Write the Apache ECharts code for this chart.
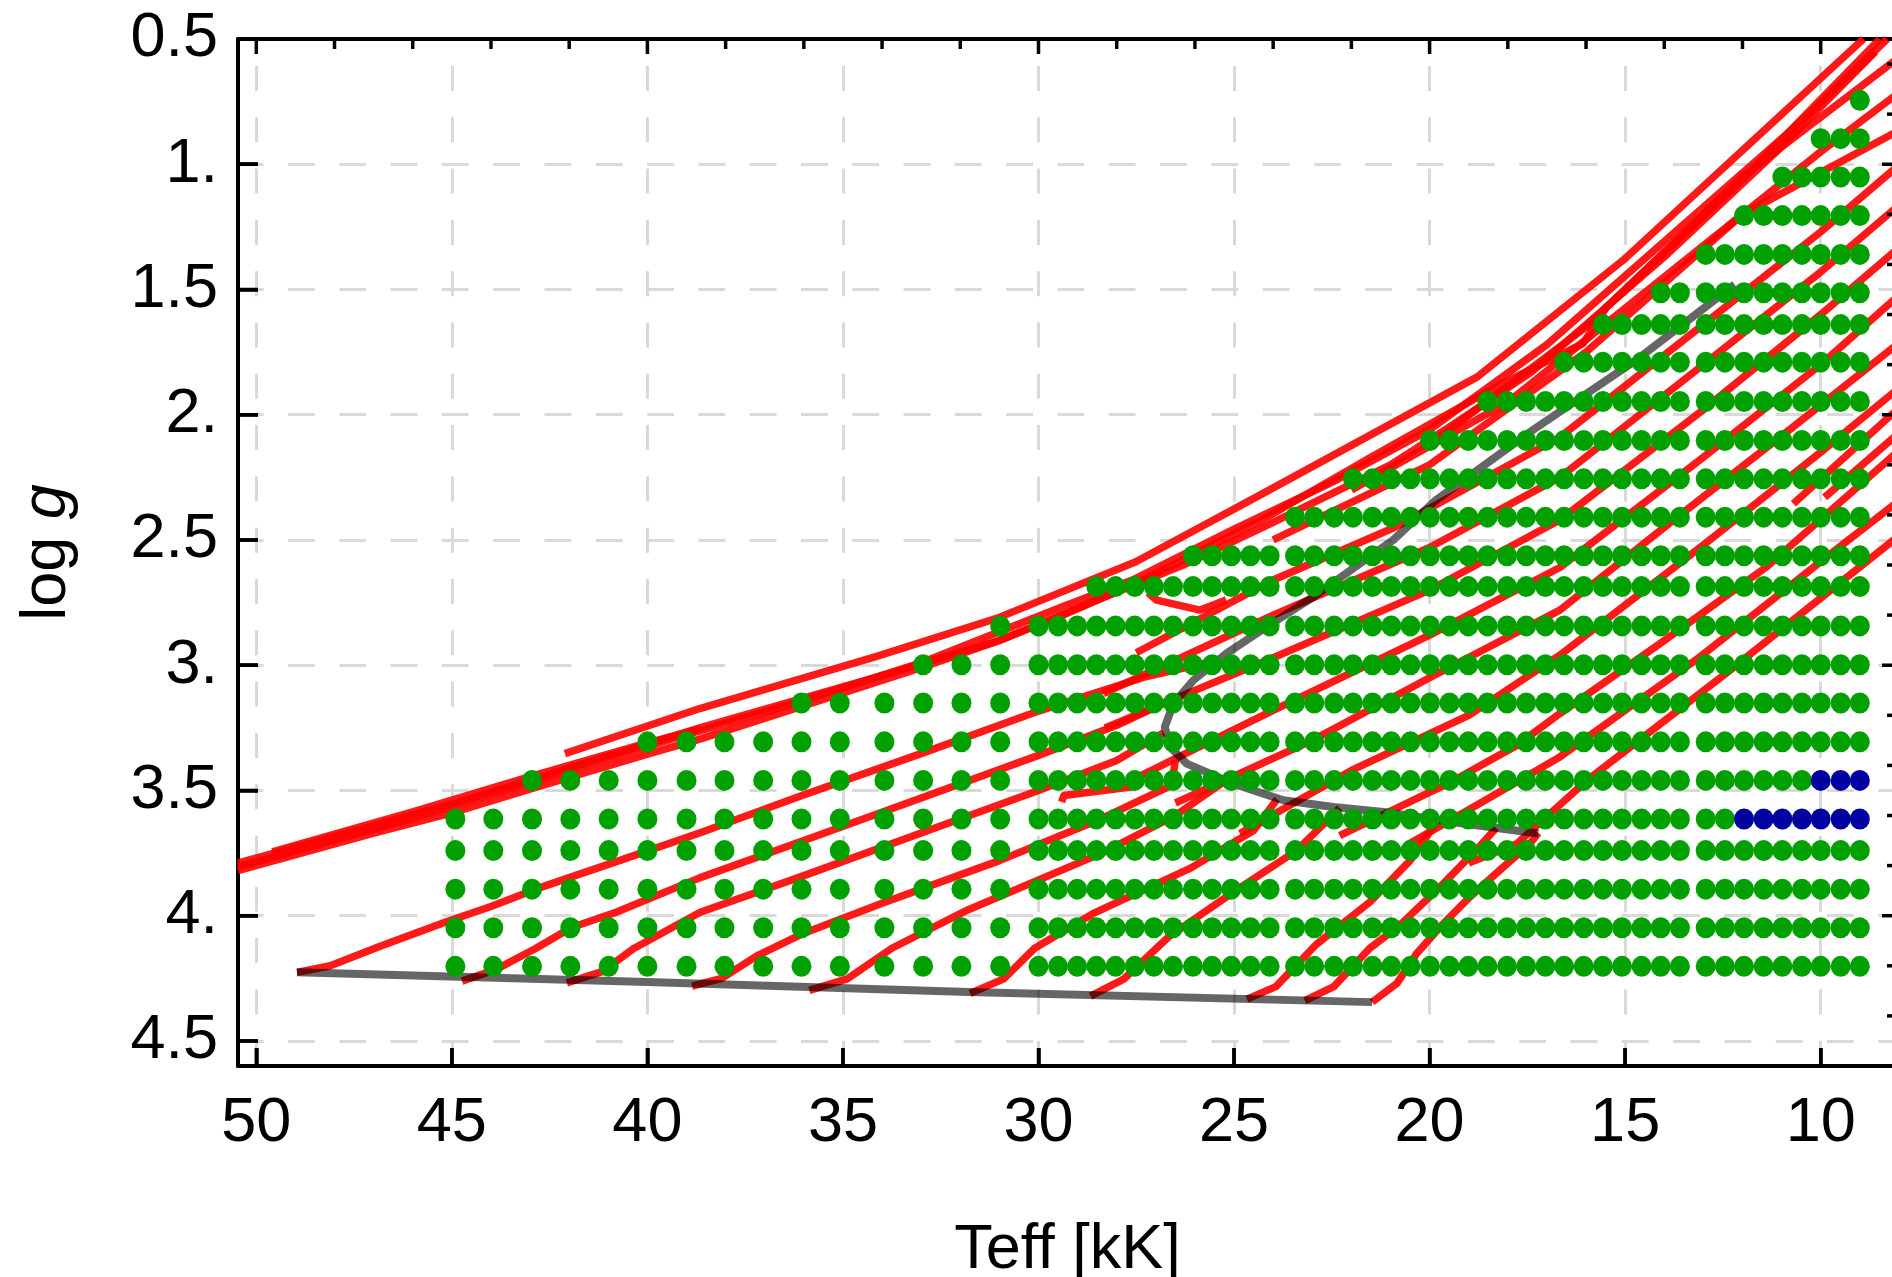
<!DOCTYPE html>
<html><head><meta charset="utf-8">
<script src="https://cdn.jsdelivr.net/npm/echarts@6/dist/echarts.min.js"></script>
<style>html,body{margin:0;padding:0;background:#fff}#c{width:1892px;height:1277px}</style>
</head><body><div id="c"></div>
<script>
// ---- grid of model points (Teff in kK, log g) ----
const rowLogg = [0.745,0.898,1.051,1.205,1.36,1.513,1.64,1.79,1.947,2.103,2.256,2.409,2.563,2.686,2.843,2.998,3.151,3.306,3.46,3.614,3.74,3.894,4.048,4.202];
const rowHottest = [9.0,10.0,10.98,11.96,12.94,14.09,15.57,16.56,18.52,19.99,21.96,23.44,26.05,28.52,30.98,32.95,36.06,40.0,42.95,44.91,44.91,44.91,44.91,44.91];
const colsSparse = [44.91,43.94,42.95,41.97,40.99,40.0,39.0,38.03,37.04,36.06,35.08,33.94,32.95,31.97,30.98];
const colsHot = [30.0,29.5,29.01,28.52,28.03,27.54,27.05,26.56,26.05,25.56,25.07,24.58,24.09];
const colsMid = [23.44,22.95,22.44,21.96,21.46,20.98,20.49,19.99,19.49,19.01,18.52,18.02,17.53,17.04,16.56,16.06,15.57,15.08,14.58,14.09,13.6];
const colsCool = [12.94,12.45,11.96,11.46,10.98,10.48,10.0,9.49,9.0];
// rows whose coolest points are marked blue: [logg, hottest blue Teff]
const blueRows = [[3.46,10.0],[3.614,11.96]];

// ---- ZAMS and TAMS (grey) ----
const zamsLine = [[48.96,4.226],[40.0,4.265],[31.8,4.305],[21.47,4.345]];
const tamsLine = [[12.2,1.48],[14.7,1.78],[17.35,2.06],[19.84,2.341],[20.93,2.5],[21.78,2.594],[22.97,2.727],[24.17,2.847],[25.19,2.953],[26.04,3.06],[26.55,3.153],[26.77,3.246],[26.64,3.326],[26.21,3.393],[25.02,3.473],[23.74,3.539],[22.46,3.566],[21.18,3.586],[19.14,3.632],[17.22,3.672]];

// ---- evolutionary tracks (red) ----
const trkE0 = [[42.11,3.353],[38.66,3.173],[34.18,2.967],[31.07,2.813],[27.51,2.587],[24.34,2.321],[18.78,1.849],[15.05,1.383],[8.91,0.5]];
const trkE1 = [[50.47,3.79],[47,3.64],[44.9,3.55],[42.9,3.455],[40,3.315],[38.66,3.25],[34.09,3.045],[31.17,2.91],[29.52,2.81],[27.4,2.665],[24.34,2.425],[21.5,2.17],[18.2,1.88],[16.07,1.715],[15.47,1.569],[12,1.06],[8.49,0.5]];
const trkE2 = [[50.47,3.82],[47,3.67],[44.9,3.585],[42.9,3.49],[40,3.355],[38.66,3.295],[36.06,3.165],[33,3.01],[30.98,2.9],[28.5,2.74],[26.3,2.6],[24,2.43],[21,2.2],[19.5,2.05],[17.4,1.83],[14,1.37],[11,0.93],[8.6,0.55]];
const trkE3 = [[49.59,3.745],[46,3.585],[43,3.445],[40,3.31],[38.66,3.255]];
const trkE4 = [[50.47,3.805],[46,3.61],[42,3.42],[39.5,3.30],[36,3.14],[33,2.99],[29.39,2.767],[27.6,2.66],[25.05,2.461],[22.5,2.27],[20,2.06],[17,1.72],[13.5,1.24],[10.5,0.83],[8.3,0.5]];
const hookA = [[29.41,3.546],[29.35,3.52],[27.6,3.485]];
const hookB = [[27.2,2.71],[26.98,2.74],[25.87,2.78],[25.2,2.74]];
const msZ1 = [[48.96,4.226],[48.11,4.2],[46.85,4.123],[45.14,4.024],[44.0,3.963],[42.86,3.894],[40.57,3.772],[38.65,3.669],[36.03,3.519],[32.95,3.35],[29.98,3.182],[27.24,3.045],[25.4,2.98]];
const msZ2 = [[44.74,4.261],[43.88,4.215],[42.86,4.131],[41.94,4.047],[40.8,3.986],[38.65,3.848],[36,3.7],[33,3.53],[30,3.36],[28,3.24],[26.5,3.13]];
const msZ3 = [[42.06,4.268],[41.14,4.222],[40.35,4.131],[38.65,3.986],[36,3.84],[33,3.67],[30,3.5],[28,3.38],[26.8,3.27]];
const msZ4 = [[38.86,4.281],[38.1,4.25],[37.2,4.16],[36,4.07],[34,3.95],[31,3.78],[28.5,3.62],[26.6,3.48],[26.5,3.38]];
const msZ5 = [[35.86,4.298],[34.89,4.252],[33.75,4.13],[31.81,3.977],[28.38,3.75],[26.5,3.6],[25.3,3.47]];
const msZ6 = [[31.75,4.31],[30.89,4.252],[30.1,4.13],[28.61,3.992],[26.1,3.809],[24.5,3.66],[23.9,3.535]];
const msZ7 = [[28.67,4.321],[27.81,4.252],[26.67,4.084],[24.96,3.9],[23.4,3.74],[22.3,3.57]];
const msZ8 = [[24.67,4.333],[23.93,4.283],[22.9,4.115],[21.53,3.946],[20.5,3.78],[19.8,3.62]];
const msZ9 = [[23.19,4.339],[22.45,4.283],[21.53,4.13],[20.76,4.038],[19.7,3.88],[18.7,3.72],[18.3,3.65]];
const msZ10 = [[21.47,4.345],[20.84,4.271],[20.33,4.151],[19.73,4.045],[18.97,3.925],[18.11,3.805],[17.43,3.712],[17.22,3.67]];
const pZ10 = [[19.0,3.79],[17.77,3.713],[15.98,3.46],[12.4,3.03],[8.05,2.49]];
const pZ9 = [[20.6,3.72],[18.7,3.55],[16.67,3.366],[13.09,2.967],[9.85,2.568],[8.05,2.35]];
const pZ8 = [[22.3,3.68],[19.5,3.47],[17.77,3.32],[16.67,3.193],[14.11,2.914],[11.38,2.607],[8.05,2.15]];
const pZ7 = [[24.85,3.672],[22,3.42],[19,3.2],[16.67,2.96],[13,2.52],[10,2.15],[8.05,1.9]];
const pZ6 = [[26.5,3.55],[23,3.3],[20,3.05],[16.67,2.78],[13.77,2.421],[10.7,2.048],[8.05,1.72]];
const pZ5 = [[27.5,3.45],[24,3.18],[20,2.88],[16.67,2.61],[13,2.17],[10,1.8],[8.05,1.53]];
const pZ4 = [[28.3,3.25],[24,2.97],[20,2.7],[16.67,2.42],[13,1.98],[10,1.6],[8.05,1.34]];
const pZ3 = [[28.34,3.113],[24,2.8],[20,2.53],[16.67,2.25],[13,1.8],[10,1.43],[8.05,1.17]];
const pZ2 = [[27.5,2.95],[24,2.66],[20.9,2.45],[16.67,2.09],[13,1.64],[10,1.27],[8.05,1.01]];
const pEa = [[24,2.5],[20,2.2],[16,1.75],[12,1.2],[8.05,0.87]];
const pEb = [[22,2.3],[18,1.95],[14,1.45],[10,0.95],[8.05,0.72]];
const pEc = [[20,2.12],[16,1.65],[12,1.05],[8.05,0.58]];
const stubA = [[10.7,2.355],[8.05,1.98]];
const stubB = [[9.9,2.33],[8.05,2.08]];
const redTracks = [trkE0,trkE1,trkE2,trkE3,trkE4,hookA,hookB,msZ1,msZ2,msZ3,msZ4,msZ5,msZ6,msZ7,msZ8,msZ9,msZ10,
  pZ10,pZ9,pZ8,pZ7,pZ6,pZ5,pZ4,pZ3,pZ2,pEa,pEb,pEc,stubA,stubB];

// ---- axis ticks ----
const xTickStep = 5, yTickStep = 0.5;
const bottomTicks = [10,15,20,25,30,35,40,45,50];
const topTicks = [10,12,14,16,18,20,22,24,26,28,30,32,34,36,38,40,42,44,46,48,50];
const leftTicks = [1.0,1.5,2.0,2.5,3.0,3.5,4.0,4.5];
const rightTicks = [0.6,0.8,1.0,1.2,1.4,1.6,1.8,2.0,2.2,2.4,2.6,2.8,3.0,3.2,3.4,3.6,3.8,4.0,4.2,4.4];

// build point lists
const allCols = colsSparse.concat(colsHot, colsMid, colsCool);
const greenPts = [], bluePts = [];
rowLogg.forEach((g, i) => {
  allCols.forEach(t => {
    if (t > rowHottest[i] + 0.05) return;
    const b = blueRows.find(r => Math.abs(r[0] - g) < 1e-6);
    if (b && t <= b[1] + 0.05) bluePts.push([t, g]); else greenPts.push([t, g]);
  });
});

const xMin = 8.049, xMax = 50.468, yMin = 0.5, yMax = 4.6;
const FONT = '"Liberation Sans", Arial, sans-serif';
const chart = echarts.init(document.getElementById('c'), null, {renderer: 'canvas'});
const gridLine = (dash, off) => ({show: true, showMinLine: false, showMaxLine: false,
  lineStyle: {color: '#d9d9d9', width: 3, type: dash, dashOffset: off}});
const series = [];
redTracks.forEach(d => series.push({
  type: 'line', data: d, showSymbol: false, symbol: 'none', z: 2, silent: true,
  lineStyle: {color: 'rgba(255,0,0,0.9)', width: 7.5, cap: 'butt', join: 'round'}, animation: false
}));
[zamsLine, tamsLine].forEach(d => series.push({
  type: 'line', data: d, symbol: 'none', z: 3, silent: true,
  lineStyle: {color: 'rgba(0,0,0,0.6)', width: 8, cap: 'butt', join: 'round'}, animation: false
}));
series.push({type: 'scatter', data: greenPts, symbol: 'circle', symbolSize: [20, 21], z: 4, silent: true,
  itemStyle: {color: '#00a000', opacity: 1}, animation: false});
series.push({type: 'scatter', data: bluePts, symbol: 'circle', symbolSize: [20, 21], z: 4, silent: true,
  itemStyle: {color: '#0000a0', opacity: 1}, animation: false});

// frame tick marks as short line series through the axis scales
const isMult = (v, s) => Math.abs(v / s - Math.round(v / s)) < 1e-6;
const pxX = 39.11, pxY = 250.4; // pixels per data unit, used only to turn tick lengths into data offsets
function tickLine(pts) {
  return {type: 'line', data: pts, symbol: 'none', z: 5, silent: true, clip: false, animation: false,
    lineStyle: {color: '#000', width: 3.5, cap: 'butt'}};
}
topTicks.forEach(t => {
  const len = (isMult(t, 10) ? 15 : 10) / pxY;
  series.push(tickLine([[t, yMin], [t, yMin + len]]));
});
bottomTicks.forEach(t => series.push(tickLine([[t, yMax], [t, yMax - 18 / pxY]])));
leftTicks.forEach(g => series.push(tickLine([[xMax, g], [xMax - 20 / pxX, g]])));
rightTicks.forEach(g => {
  const len = (isMult(g, 1) ? 15 : 10) / pxX;
  series.push(tickLine([[xMin, g], [xMin + len, g]]));
});

chart.setOption({
  animation: false,
  backgroundColor: '#fff',
  grid: {left: 238, top: 39, width: 1659, height: 1027, containLabel: false, outerBoundsMode: 'none'},
  xAxis: [{
    show: true, type: 'value', position: 'bottom', inverse: true, min: xMin, max: xMax, splitNumber: 8,
    axisLine: {show: true, onZero: false, lineStyle: {color: '#000', width: 4}},
    axisTick: {show: true, inside: true, length: 18, lineStyle: {color: '#000', width: 3.5}},
    axisLabel: {show: true, margin: 26, color: '#000', fontSize: 63, fontFamily: FONT,
      formatter: v => isMult(v, xTickStep) ? String(Math.round(v)) : ''},
    splitLine: gridLine([25, 26.3], 24.3),
    name: 'Teff [kK]', nameLocation: 'middle', nameGap: 153,
    nameTextStyle: {color: '#000', fontSize: 63, fontFamily: FONT}
  }, {
    show: true, type: 'value', position: 'top', inverse: true, min: xMin, max: xMax,
    axisLine: {show: true, onZero: false, lineStyle: {color: '#000', width: 4}},
    axisTick: {show: false}, axisLabel: {show: false}, splitLine: {show: false}
  }],
  yAxis: [{
    show: true, type: 'value', position: 'left', inverse: true, min: yMin, max: yMax, splitNumber: 8,
    axisLine: {show: true, onZero: false, lineStyle: {color: '#000', width: 4}},
    axisTick: {show: true, inside: true, length: 20, lineStyle: {color: '#000', width: 3.5}},
    axisLabel: {show: true, margin: 20, color: '#000', fontSize: 63, fontFamily: FONT,
      formatter: v => {
        if (!isMult(v, yTickStep)) return '';
        const r = Math.round(v * 10) / 10;
        return Number.isInteger(r) ? r + '.' : String(r);
      }},
    splitLine: gridLine([26.8, 24.5], 1.3),
    name: '{a|log }{b|g}', nameLocation: 'middle', nameGap: 159, nameRotate: 90,
    nameTextStyle: {color: '#000', fontSize: 63, fontFamily: FONT,
      rich: {a: {fontSize: 63, fontFamily: FONT, color: '#000'}, b: {fontSize: 63, fontFamily: FONT, fontStyle: 'italic', color: '#000'}}}
  }, {
    show: true, type: 'value', position: 'right', inverse: true, min: yMin, max: yMax,
    axisLine: {show: true, onZero: false, lineStyle: {color: '#000', width: 4}},
    axisTick: {show: false}, axisLabel: {show: false}, splitLine: {show: false}
  }],
  series: series
});
</script></body></html>
